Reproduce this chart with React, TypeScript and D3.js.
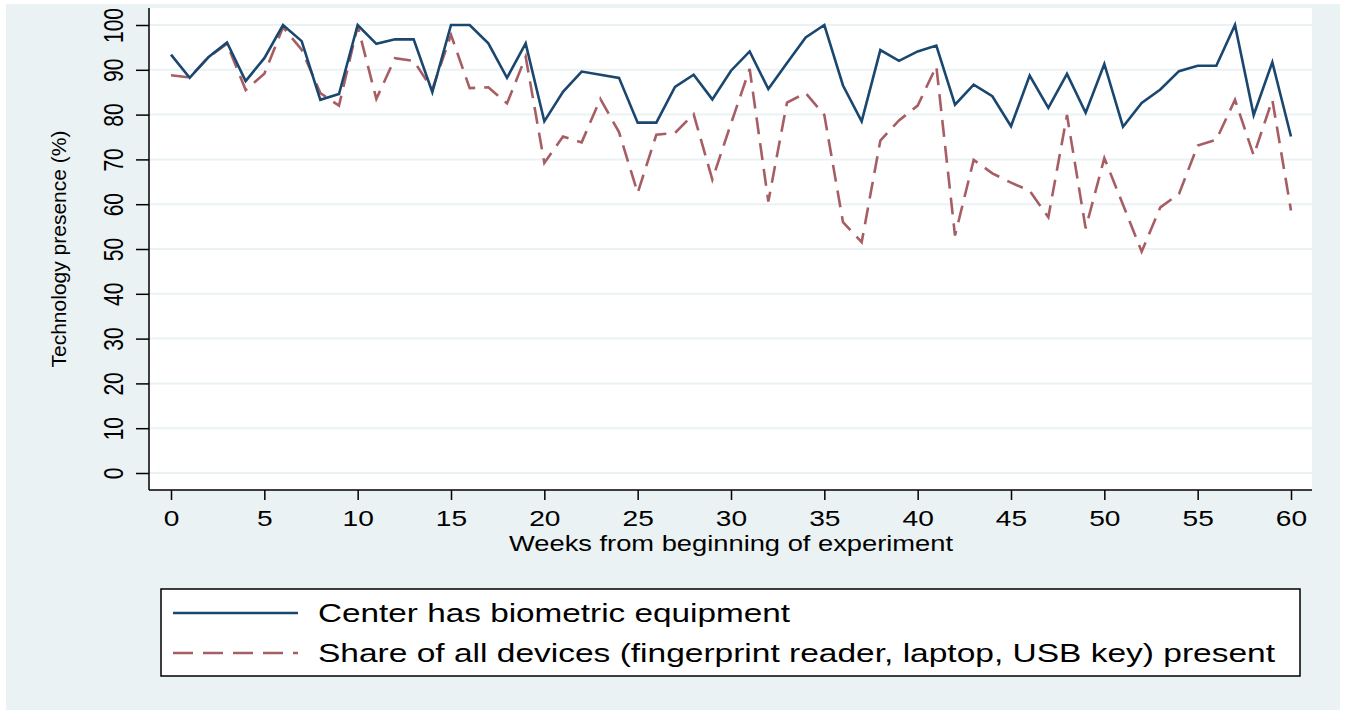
import React, { useRef, useEffect } from "react";
import * as d3 from "d3";

// weeks 0..60
const weeks: number[] = d3.range(0, 61);

const biometric: number[] = [
  93.4, 88.2, 92.8, 96.1, 87.5, 92.6, 100, 96.4, 83.3, 84.6,
  100, 95.8, 96.8, 96.8, 85.0, 100, 100, 95.9, 88.2, 95.9,
  78.5, 85.1, 89.6, 88.9, 88.2, 78.2, 78.2, 86.2, 88.9, 83.4,
  89.8, 94.1, 85.7, 91.5, 97.2, 100, 86.5, 78.5, 94.4, 92.0,
  94.1, 95.4, 82.2, 86.7, 84.1, 77.4, 88.7, 81.5, 89.1, 80.4,
  91.3, 77.3, 82.6, 85.6, 89.7, 90.9, 90.9, 100, 79.9, 91.7,
  75.1,
];

const allDevices: number[] = [
  88.8, 88.3, 92.8, 95.8, 85.5, 89.1, 99.5, 94.5, 84.8, 82.0,
  99.8, 83.5, 92.6, 92.0, 85.7, 97.8, 85.9, 86.1, 82.5, 92.9,
  69.2, 75.1, 73.8, 83.5, 76.1, 62.5, 75.5, 75.9, 80.1, 65.5,
  78.0, 90.2, 60.6, 82.7, 84.8, 79.9, 56.0, 51.5, 74.2, 78.7,
  82.0, 90.8, 53.0, 69.9, 66.9, 64.8, 63.0, 57.1, 79.9, 54.6,
  70.3, 59.9, 49.4, 59.3, 62.3, 73.1, 74.4, 83.3, 70.9, 83.3,
  58.6,
];

const yTicks: number[] = [0, 10, 20, 30, 40, 50, 60, 70, 80, 90, 100];
const xTicks: number[] = [0, 5, 10, 15, 20, 25, 30, 35, 40, 45, 50, 55, 60];

const legendLabels: string[] = [
  "Center has biometric equipment",
  "Share of all devices (fingerprint reader, laptop, USB key) present",
];

const W = 1346;
const H = 713;
const BG = "#eaf2f3";
const NAVY = "#1a476f";
const MAROON = "#a65e64";
const FONT = "'Liberation Sans', Arial, sans-serif";
const NARROW = "'Liberation Sans Narrow', 'Liberation Sans', Arial, sans-serif";
const STRETCH = 1.28; // the original export is a bit wide

export default function App() {
  const svgRef = useRef<SVGSVGElement>(null);

  useEffect(() => {
    const svg = d3.select(svgRef.current);
    svg.selectAll("*").remove();

    // plot region
    const left = 149, right = 1312, top = 8, bottom = 490;

    const x = d3.scaleLinear().domain([0, 60]).range([171, 1291]);
    const y = d3.scaleLinear().domain([0, 100]).range([473, 25]);

    // outer background + plot area
    svg.append("rect").attr("x", 6).attr("y", 4).attr("width", 1334).attr("height", 706).attr("fill", BG);
    svg.append("rect").attr("x", left).attr("y", top).attr("width", right - left).attr("height", bottom - top).attr("fill", "#fff");

    // gridlines
    svg.append("g")
      .selectAll("line")
      .data(yTicks)
      .enter()
      .append("line")
      .attr("x1", left)
      .attr("x2", right)
      .attr("y1", (d) => y(d))
      .attr("y2", (d) => y(d))
      .attr("stroke", BG)
      .attr("stroke-width", 2);

    // y axis
    const yAxis = svg.append("g")
      .attr("transform", `translate(${left},0)`)
      .call(d3.axisLeft(y).tickValues(yTicks).tickSize(13).tickSizeOuter(0));
    yAxis.select(".domain").remove();
    yAxis.selectAll(".tick line").attr("stroke", "#000").attr("stroke-width", 1.5);
    yAxis.selectAll(".tick text")
      .attr("transform", `translate(-26,0) scale(${STRETCH},1) rotate(-90)`)
      .attr("x", 0)
      .attr("y", 0)
      .attr("dy", 0)
      .attr("text-anchor", "middle")
      .attr("font-family", NARROW)
      .attr("font-size", 21)
      .attr("fill", "#000");
    svg.append("line")
      .attr("x1", left).attr("x2", left).attr("y1", top).attr("y2", bottom)
      .attr("stroke", "#000").attr("stroke-width", 1.5);

    // x axis
    const xAxis = svg.append("g")
      .attr("transform", `translate(0,${bottom})`)
      .call(d3.axisBottom(x).tickValues(xTicks).tickSize(10).tickSizeOuter(0));
    xAxis.select(".domain").remove();
    xAxis.selectAll(".tick line").attr("stroke", "#000").attr("stroke-width", 1.5);
    xAxis.selectAll(".tick text")
      .attr("transform", `scale(${STRETCH},1)`)
      .attr("y", 36)
      .attr("dy", 0)
      .attr("font-family", FONT)
      .attr("font-size", 22)
      .attr("fill", "#000");
    svg.append("line")
      .attr("x1", left).attr("x2", right).attr("y1", bottom).attr("y2", bottom)
      .attr("stroke", "#000").attr("stroke-width", 1.5);

    // axis titles
    svg.append("text")
      .attr("x", 731)
      .attr("y", 551)
      .attr("text-anchor", "middle")
      .attr("font-family", FONT)
      .attr("font-size", 22)
      .attr("textLength", 444)
      .attr("lengthAdjust", "spacingAndGlyphs")
      .text("Weeks from beginning of experiment");

    svg.append("text")
      .attr("transform", `translate(66,${(top + bottom) / 2}) rotate(-90)`)
      .attr("text-anchor", "middle")
      .attr("font-family", NARROW)
      .attr("font-size", 21)
      .text("Technology presence (%)");

    // lines
    const line = (vals: number[]) =>
      d3.line<number>().x((d) => x(d)).y((d) => y(vals[d]))(weeks);

    svg.append("path")
      .attr("d", line(allDevices))
      .attr("fill", "none")
      .attr("stroke", MAROON)
      .attr("stroke-width", 2.6)
      .attr("stroke-dasharray", "17,9");

    svg.append("path")
      .attr("d", line(biometric))
      .attr("fill", "none")
      .attr("stroke", NAVY)
      .attr("stroke-width", 2.6);

    // legend
    const lg = svg.append("g");
    lg.append("rect")
      .attr("x", 161).attr("y", 589).attr("width", 1139).attr("height", 87)
      .attr("fill", "#fff").attr("stroke", "#000").attr("stroke-width", 1.5);

    const styles = [
      { color: NAVY, dash: null, len: 472 },
      { color: MAROON, dash: "20,10", len: 957 },
    ];
    legendLabels.forEach((lab, i) => {
      const cy = 613 + i * 40;
      lg.append("line")
        .attr("x1", 173).attr("x2", 298).attr("y1", cy).attr("y2", cy)
        .attr("stroke", styles[i].color)
        .attr("stroke-width", 2.6)
        .attr("stroke-dasharray", styles[i].dash);
      lg.append("text")
        .attr("x", 318)
        .attr("y", cy + 9)
        .attr("font-family", FONT)
        .attr("font-size", 25)
        .attr("textLength", styles[i].len)
        .attr("lengthAdjust", "spacingAndGlyphs")
        .text(lab);
    });
  }, []);

  return (
    <div style={{ position: "absolute", left: 0, top: 0 }}>
      <svg ref={svgRef} width={W} height={H} style={{ display: "block", background: "#fff" }} />
    </div>
  );
}
